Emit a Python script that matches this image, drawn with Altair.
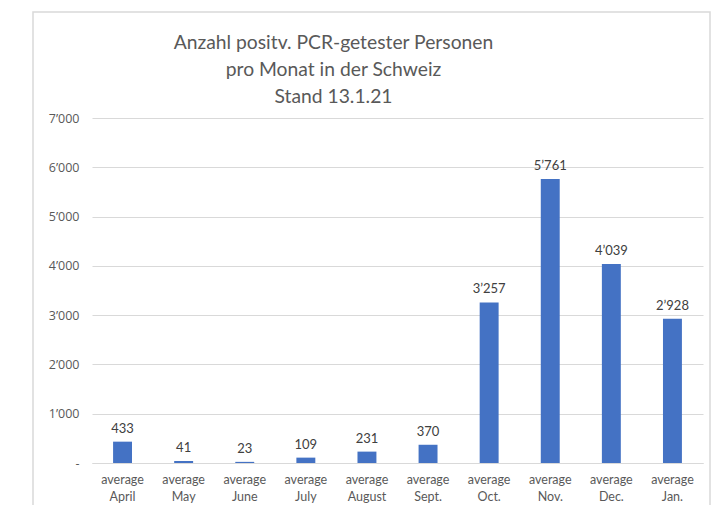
import altair as alt
import pandas as pd

months = ["April", "May", "June", "July", "August", "Sept.", "Oct.", "Nov.", "Dec.", "Jan."]
values = [433, 41, 23, 109, 231, 370, 3257, 5761, 4039, 2928]
title_lines = ["Anzahl positv. PCR-getester Personen", "pro Monat in der Schweiz", "Stand 13.1.21"]
y_ticks = [0, 1000, 2000, 3000, 4000, 5000, 6000, 7000]

df = pd.DataFrame({"month": months, "value": values})
df["label"] = df["value"].map(lambda v: f"{v:,}".replace(",", "\u2019"))

x_enc = alt.X(
    "month:N",
    sort=months,
    scale=alt.Scale(paddingInner=0.69, paddingOuter=0.345),
    axis=alt.Axis(
        title=None,
        labelExpr="['average', datum.label]",
        labelAngle=0,
        labelFont="Lato",
        labelFontSize=12.5,
        labelColor="#595959",
        labelLineHeight=17,
        labelPadding=10,
        ticks=False,
        domainColor="#d9d9d9",
        domainWidth=1,
    ),
)
y_enc = alt.Y(
    "value:Q",
    scale=alt.Scale(domain=[0, 7000], nice=False),
    axis=alt.Axis(
        title=None,
        values=y_ticks,
        labelExpr="datum.value == 0 ? '-\u00a0\u00a0' : replace(format(datum.value, ','), ',', '\u2019')",
        labelFont="Open Sans",
        labelFontSize=12.5,
        labelColor="#595959",
        labelPadding=13,
        ticks=False,
        domain=False,
        gridColor="#d9d9d9",
        gridWidth=1,
    ),
)

bars = alt.Chart(df).mark_bar(color="#4472C4").encode(x=x_enc, y=y_enc)
texts = alt.Chart(df).mark_text(
    baseline="bottom", dy=-6, font="Lato", fontSize=13, color="#404040"
).encode(x=alt.X("month:N", sort=months), y="value:Q", text="label:N")

frame = alt.Chart(alt.Data(values=[{"a": 1}])).mark_rect(
    filled=False, stroke="#d9d9d9", strokeWidth=1.5
).encode(
    x=alt.value(-59), x2=alt.value(618), y=alt.value(-106), y2=alt.value(420)
)

chart = alt.layer(frame, bars, texts).properties(
    width=611,
    height=345,
    autosize=alt.AutoSizeParams(type="none"),
    padding={"left": 84, "top": 110, "right": 8, "bottom": 42},
    title=alt.TitleParams(
        text=title_lines,
        anchor="middle",
        frame="group",
        dx=-64,
        offset=-96,
        font="Lato",
        fontSize=19.3,
        fontWeight="normal",
        color="#595959",
        lineHeight=27,
    ),
).configure_view(stroke=None)

chart.save("out.html", embed_options={"renderer": "svg", "actions": False})
